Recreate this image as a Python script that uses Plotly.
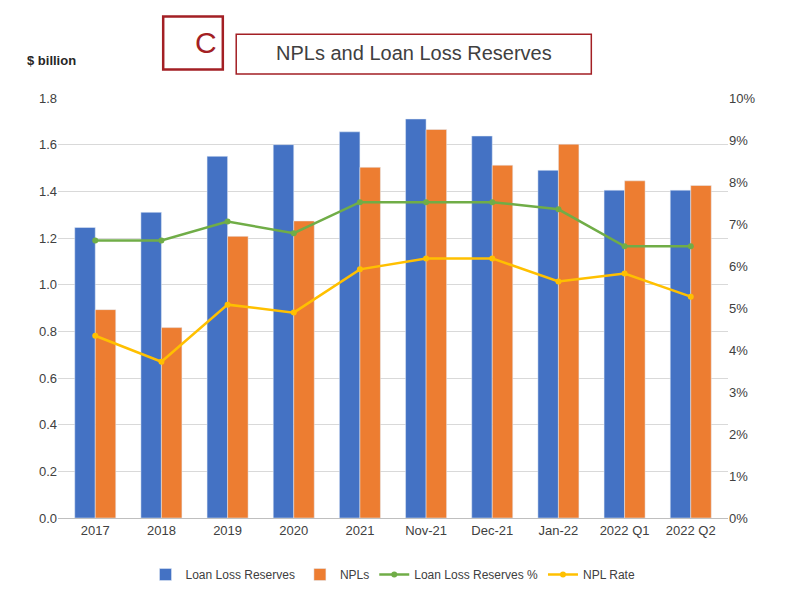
import plotly.graph_objects as go

categories = ["2017", "2018", "2019", "2020", "2021", "Nov-21", "Dec-21", "Jan-22", "2022 Q1", "2022 Q2"]
loan_loss_reserves = [1.245, 1.31, 1.55, 1.60, 1.655, 1.71, 1.637, 1.49, 1.405, 1.405]
npls = [0.893, 0.816, 1.207, 1.273, 1.503, 1.665, 1.512, 1.602, 1.445, 1.425]
reserves_pct = [6.61, 6.61, 7.06, 6.78, 7.52, 7.52, 7.52, 7.35, 6.47, 6.47]
npl_rate = [4.34, 3.72, 5.08, 4.89, 5.92, 6.18, 6.18, 5.63, 5.82, 5.27]

font = "Liberation Sans, Arial, sans-serif"
fig = go.Figure()
fig.add_bar(x=categories, y=loan_loss_reserves, name="Loan Loss Reserves", marker_color="#4472C4")
fig.add_bar(x=categories, y=npls, name="NPLs", marker_color="#ED7D31")
fig.add_scatter(x=categories, y=reserves_pct, name="Loan Loss Reserves %", yaxis="y2",
                mode="lines+markers", line=dict(color="#70AD47", width=2.5), marker=dict(size=6))
fig.add_scatter(x=categories, y=npl_rate, name="NPL Rate", yaxis="y2",
                mode="lines+markers", line=dict(color="#FFC000", width=2.5), marker=dict(size=6))

fig.update_layout(
    width=802, height=598, plot_bgcolor="white", paper_bgcolor="white",
    font=dict(family=font, size=13, color="#404040"),
    margin=dict(l=50, r=82, t=90, b=88),
    barmode="group", bargap=0.38, bargroupgap=0.0,
    xaxis=dict(showline=True, linecolor="#bfbfbf", tickfont=dict(size=13)),
    yaxis=dict(range=[0, 1.8], dtick=0.2, tickformat=".1f", gridcolor="#d9d9d9", zeroline=False),
    yaxis2=dict(range=[0, 10], dtick=1, ticksuffix="%", overlaying="y", side="right",
                showgrid=False, zeroline=False),
    legend=dict(orientation="h", x=0.5, xanchor="center", y=-0.1, yanchor="top",
                font=dict(size=12), traceorder="normal"),
    annotations=[
        dict(text="<b>$ billion</b>", xref="paper", yref="paper", x=-0.05, y=1.09,
             xanchor="left", yanchor="middle", showarrow=False, font=dict(size=13, color="#262626")),
    ],
    shapes=[
        dict(type="rect", xref="paper", yref="paper", x0=0.157, x1=0.246, y0=1.068, y1=1.194,
             line=dict(color="#A31F24", width=2.5)),
        dict(type="rect", xref="paper", yref="paper", x0=0.266, x1=0.796, y0=1.057, y1=1.152,
             line=dict(color="#A31F24", width=1.5)),
    ],
)
fig.add_annotation(text="C", xref="paper", yref="paper", x=0.201, y=1.133, yanchor="middle",
                   showarrow=False, font=dict(size=30, color="#A31F24"))
fig.add_annotation(text="NPLs and Loan Loss Reserves", xref="paper", yref="paper", x=0.531, y=1.107,
                   yanchor="middle", showarrow=False, font=dict(size=20, color="#404040"))
fig.write_html("out.html")
